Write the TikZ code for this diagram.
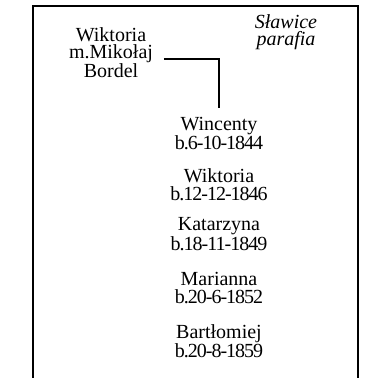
\documentclass[tikz,border=0pt]{standalone}
\usepackage{fontspec}
\setmainfont{Liberation Serif}
\newcommand\tightdate{\addfontfeature{LetterSpace=-5}}
\begin{document}
\begin{tikzpicture}[x=1pt,y=-1pt,
  person/.style={inner sep=0pt, outer sep=0pt, align=center, anchor=base,
    font=\fontsize{20}{17.2}\selectfont},
  place/.style={inner sep=0pt, outer sep=0pt, align=center, anchor=base,
    font=\fontsize{20}{17}\selectfont\itshape},
  frame/.style={line width=2pt},
  link/.style={line width=2pt}]
\useasboundingbox (0,0) rectangle (369,378);
\draw[frame] (33,378) -- (33,5.5) -- (358,5.5) -- (358,378);
\node[place] (par) at (286,45) {Sławice\\parafia};
\node[person] (wik) at (111,77.7) {Wiktoria\\m.Mikołaj\\Bordel};
\node[person] (c1) at (219,149.3) {Wincenty\\\tightdate b.6-10-1844};
\node[person] (c2) at (219,200) {Wiktoria\\\tightdate b.12-12-1846};
\node[person] (c3) at (219,250) {Katarzyna\\\tightdate b.18-11-1849};
\node[person] (c4) at (219,303) {Marianna\\\tightdate b.20-6-1852};
\node[person] (c5) at (219,357.3) {Bartłomiej\\\tightdate b.20-8-1859};
\coordinate (turn) at (219,59.3);
\draw[link] ([xshift=11pt]wik.east |- turn) -- (turn) -- ([yshift=9pt]c1.north);
\end{tikzpicture}
\end{document}
